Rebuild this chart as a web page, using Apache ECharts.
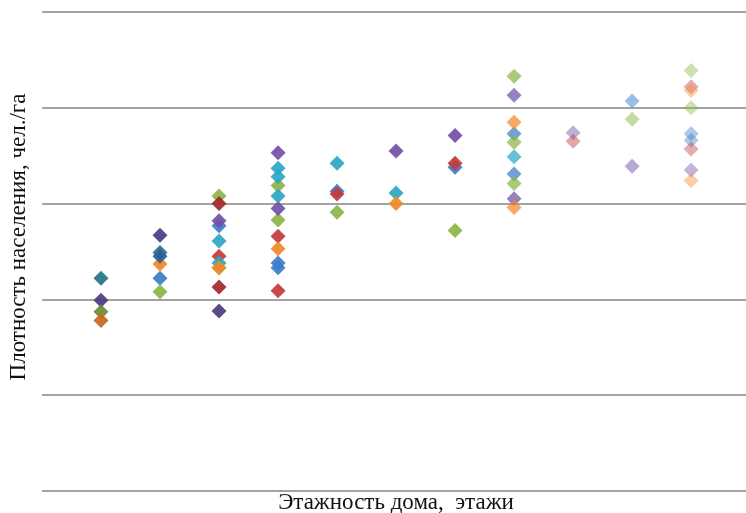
<!DOCTYPE html>
<html>
<head>
<meta charset="utf-8">
<script src="https://cdn.jsdelivr.net/npm/echarts@6/dist/echarts.min.js"></script>
<style>html,body{margin:0;padding:0;background:#fff}#c{width:746px;height:513px}</style>
</head>
<body>
<div id="c"></div>
<script>
// Data: [floors, density]
const xTitle = 'Этажность дома,  этажи';
const yTitle = 'Плотность населения, чел./га';
const yTicks = [0, 100, 200, 300, 400, 500];

const blueS = [[2,222],[3,277],[4,238],[4,233],[5,313],[7,338],[8,373],[8,331],[10,407],[11,373],[11,366]];
const redS = [[3,245],[4,266],[4,209],[5,310],[7,342],[9,365],[11,422],[11,357]];
const oliveS = [[2,208],[3,308],[3,233],[4,319],[4,283],[5,291],[7,272],[8,433],[8,364],[8,321],[10,388],[11,439],[11,400]];
const purpleS = [[3,282],[4,353],[4,295],[6,355],[7,371],[8,413],[8,305],[9,374],[10,339],[11,335]];
const tealS = [[3,261],[3,238],[4,337],[4,328],[4,308],[5,342],[6,311],[8,349]];
const orangeS = [[2,237],[3,233],[4,253],[6,300],[8,385],[8,296],[11,418],[11,324]];
const darkTealS = [[1,222],[2,249]];
const darkPurpleS = [[1,199],[2,267],[3,188]];
const darkOliveS = [[1,187]];
const darkOrangeS = [[1,178]];
const darkRedS = [[3,300],[3,213]];
const darkBlueS = [[2,245]];

const groups = [
  ['blue', blueS, '#3B7DC9'],
  ['red', redS, '#C23A3B'],
  ['olive', oliveS, '#8DB548'],
  ['purple', purpleS, '#7250A6'],
  ['teal', tealS, '#2EA6C6'],
  ['orange', orangeS, '#F28A28'],
  ['darkTeal', darkTealS, '#23748A'],
  ['darkPurple', darkPurpleS, '#4E3A80'],
  ['darkOlive', darkOliveS, '#6E8A36'],
  ['darkOrange', darkOrangeS, '#C4661F'],
  ['darkRed', darkRedS, '#A3272B'],
  ['darkBlue', darkBlueS, '#2D5C9C']
];

function fade(x) {
  if (x <= 7) return 0.92;
  if (x === 8) return 0.72;
  if (x === 9) return 0.45;
  if (x === 10) return 0.5;
  return 0.42;
}

const series = groups.map(([name, pts, color]) => ({
  name: name,
  type: 'scatter',
  symbol: 'diamond',
  symbolSize: 15,
  itemStyle: { color: color },
  data: pts.map(p => ({ value: p, itemStyle: { opacity: fade(p[0]) } }))
}));

const chart = echarts.init(document.getElementById('c'), null, { renderer: 'canvas' });
chart.setOption({
  animation: false,
  backgroundColor: '#ffffff',
  grid: { left: 42, right: 0, top: 12, bottom: 22, containLabel: false },
  xAxis: {
    type: 'value', min: 0, max: 11.93, show: false
  },
  yAxis: {
    type: 'value', min: yTicks[0], max: yTicks[yTicks.length - 1], interval: 100,
    axisLine: { show: false }, axisTick: { show: false }, axisLabel: { show: false },
    splitLine: { show: true, lineStyle: { color: '#858585', width: 1.6 } }
  },
  graphic: [
    {
      type: 'text',
      x: 396, y: 503,
      style: { text: xTitle, font: '23px "Liberation Serif", "Times New Roman", serif', fill: '#111', align: 'center', verticalAlign: 'middle' }
    },
    {
      type: 'text',
      x: 19, y: 237,
      rotation: Math.PI / 2,
      style: { text: yTitle, font: '23px "Liberation Serif", "Times New Roman", serif', fill: '#111', align: 'center', verticalAlign: 'middle' }
    }
  ],
  series: series
});
</script>
</body>
</html>
